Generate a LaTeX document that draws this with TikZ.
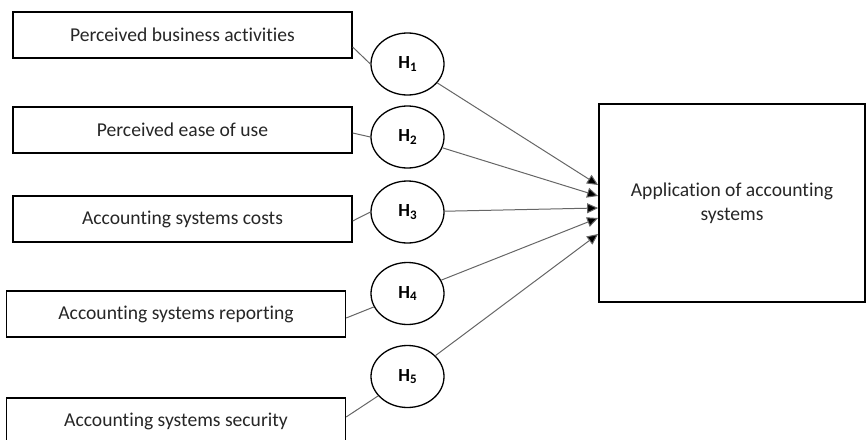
\documentclass[tikz,border=0pt]{standalone}
\usepackage{fontspec}
\setmainfont{Carlito}[Ligatures=NoCommon]
\usetikzlibrary{shapes.geometric,arrows.meta,calc}
\begin{document}
\begin{tikzpicture}[x=1pt,y=-1pt,
  varbox/.style={draw=black,line width=1.3pt,rectangle,minimum width=339pt,minimum height=46pt,inner sep=0pt,font=\fontsize{19.6}{22}\selectfont,text=black!85},
  hyp/.style={draw=black,line width=1.3pt,ellipse,minimum width=73pt,minimum height=62pt,inner sep=0pt,font=\fontsize{18.5}{20}\selectfont\bfseries},
  appbox/.style={draw=black,line width=1.8pt,rectangle,minimum width=266pt,minimum height=198pt,inner sep=0pt,align=center,font=\fontsize{19.6}{25}\selectfont,text=black!85},
  link/.style={draw=black!60,line width=1pt},
  arrowlink/.style={link,-{Triangle[length=11pt,width=10pt,fill=black]}}
]
\useasboundingbox (0,0) rectangle (866,439);
\clip (0,0) rectangle (866,439);
\newcommand{\hlab}[1]{H\raisebox{-2.5pt}{\fontsize{13}{13}\selectfont #1}}
% variable boxes
\node[varbox] (b1) at (182.5,35) {Perceived business activities};
\node[varbox] (b2) at (182.5,130) {Perceived ease of use};
\node[varbox] (b3) at (182.5,219) {Accounting systems costs};
\node[varbox] (b4) at (176,314) {Accounting systems reporting};
\node[varbox] (b5) at (176,421) {Accounting systems security};
% hypotheses
\node[hyp] (h1) at (407.5,64) {\hlab{1}};
\node[hyp] (h2) at (407.5,137) {\hlab{2}};
\node[hyp] (h3) at (407.5,212) {\hlab{3}};
\node[hyp] (h4) at (407.5,293.5) {\hlab{4}};
\node[hyp] (h5) at (407.5,376.5) {\hlab{5}};
% outcome
\node[appbox] (app) at (732,203) {\raisebox{8pt}{\begin{tabular}{@{}c@{}}Application of accounting\\[-1pt]systems\end{tabular}}};
% arrow targets on the left side of the outcome box
\coordinate (t1) at ($(app.west)+(0,-18)$);
\coordinate (t2) at ($(app.west)+(0,-7)$);
\coordinate (t3) at ($(app.west)+(0,5)$);
\coordinate (t4) at ($(app.west)+(0,15)$);
\coordinate (t5) at ($(app.west)+(0,31)$);
% box to hypothesis
\draw[link] ($(b1.east)+(0,12)$) -- (h1.west);
\draw[link] ($(b2.east)+(0,3)$) -- (h2.west);
\draw[link] ($(b3.east)+(0,2)$) -- (h3.west);
\draw[link] ($(b4.east)+(0,4)$) -- (h4);
\draw[link] ($(b5.east)+(0,-4)$) -- (h5);
% hypothesis to outcome
\draw[arrowlink] (h1) -- (t1);
\draw[arrowlink] (h2) -- (t2);
\draw[arrowlink] (h3) -- (t3);
\draw[arrowlink] (h4) -- (t4);
\draw[arrowlink] (h5) -- (t5);
\end{tikzpicture}
\end{document}
